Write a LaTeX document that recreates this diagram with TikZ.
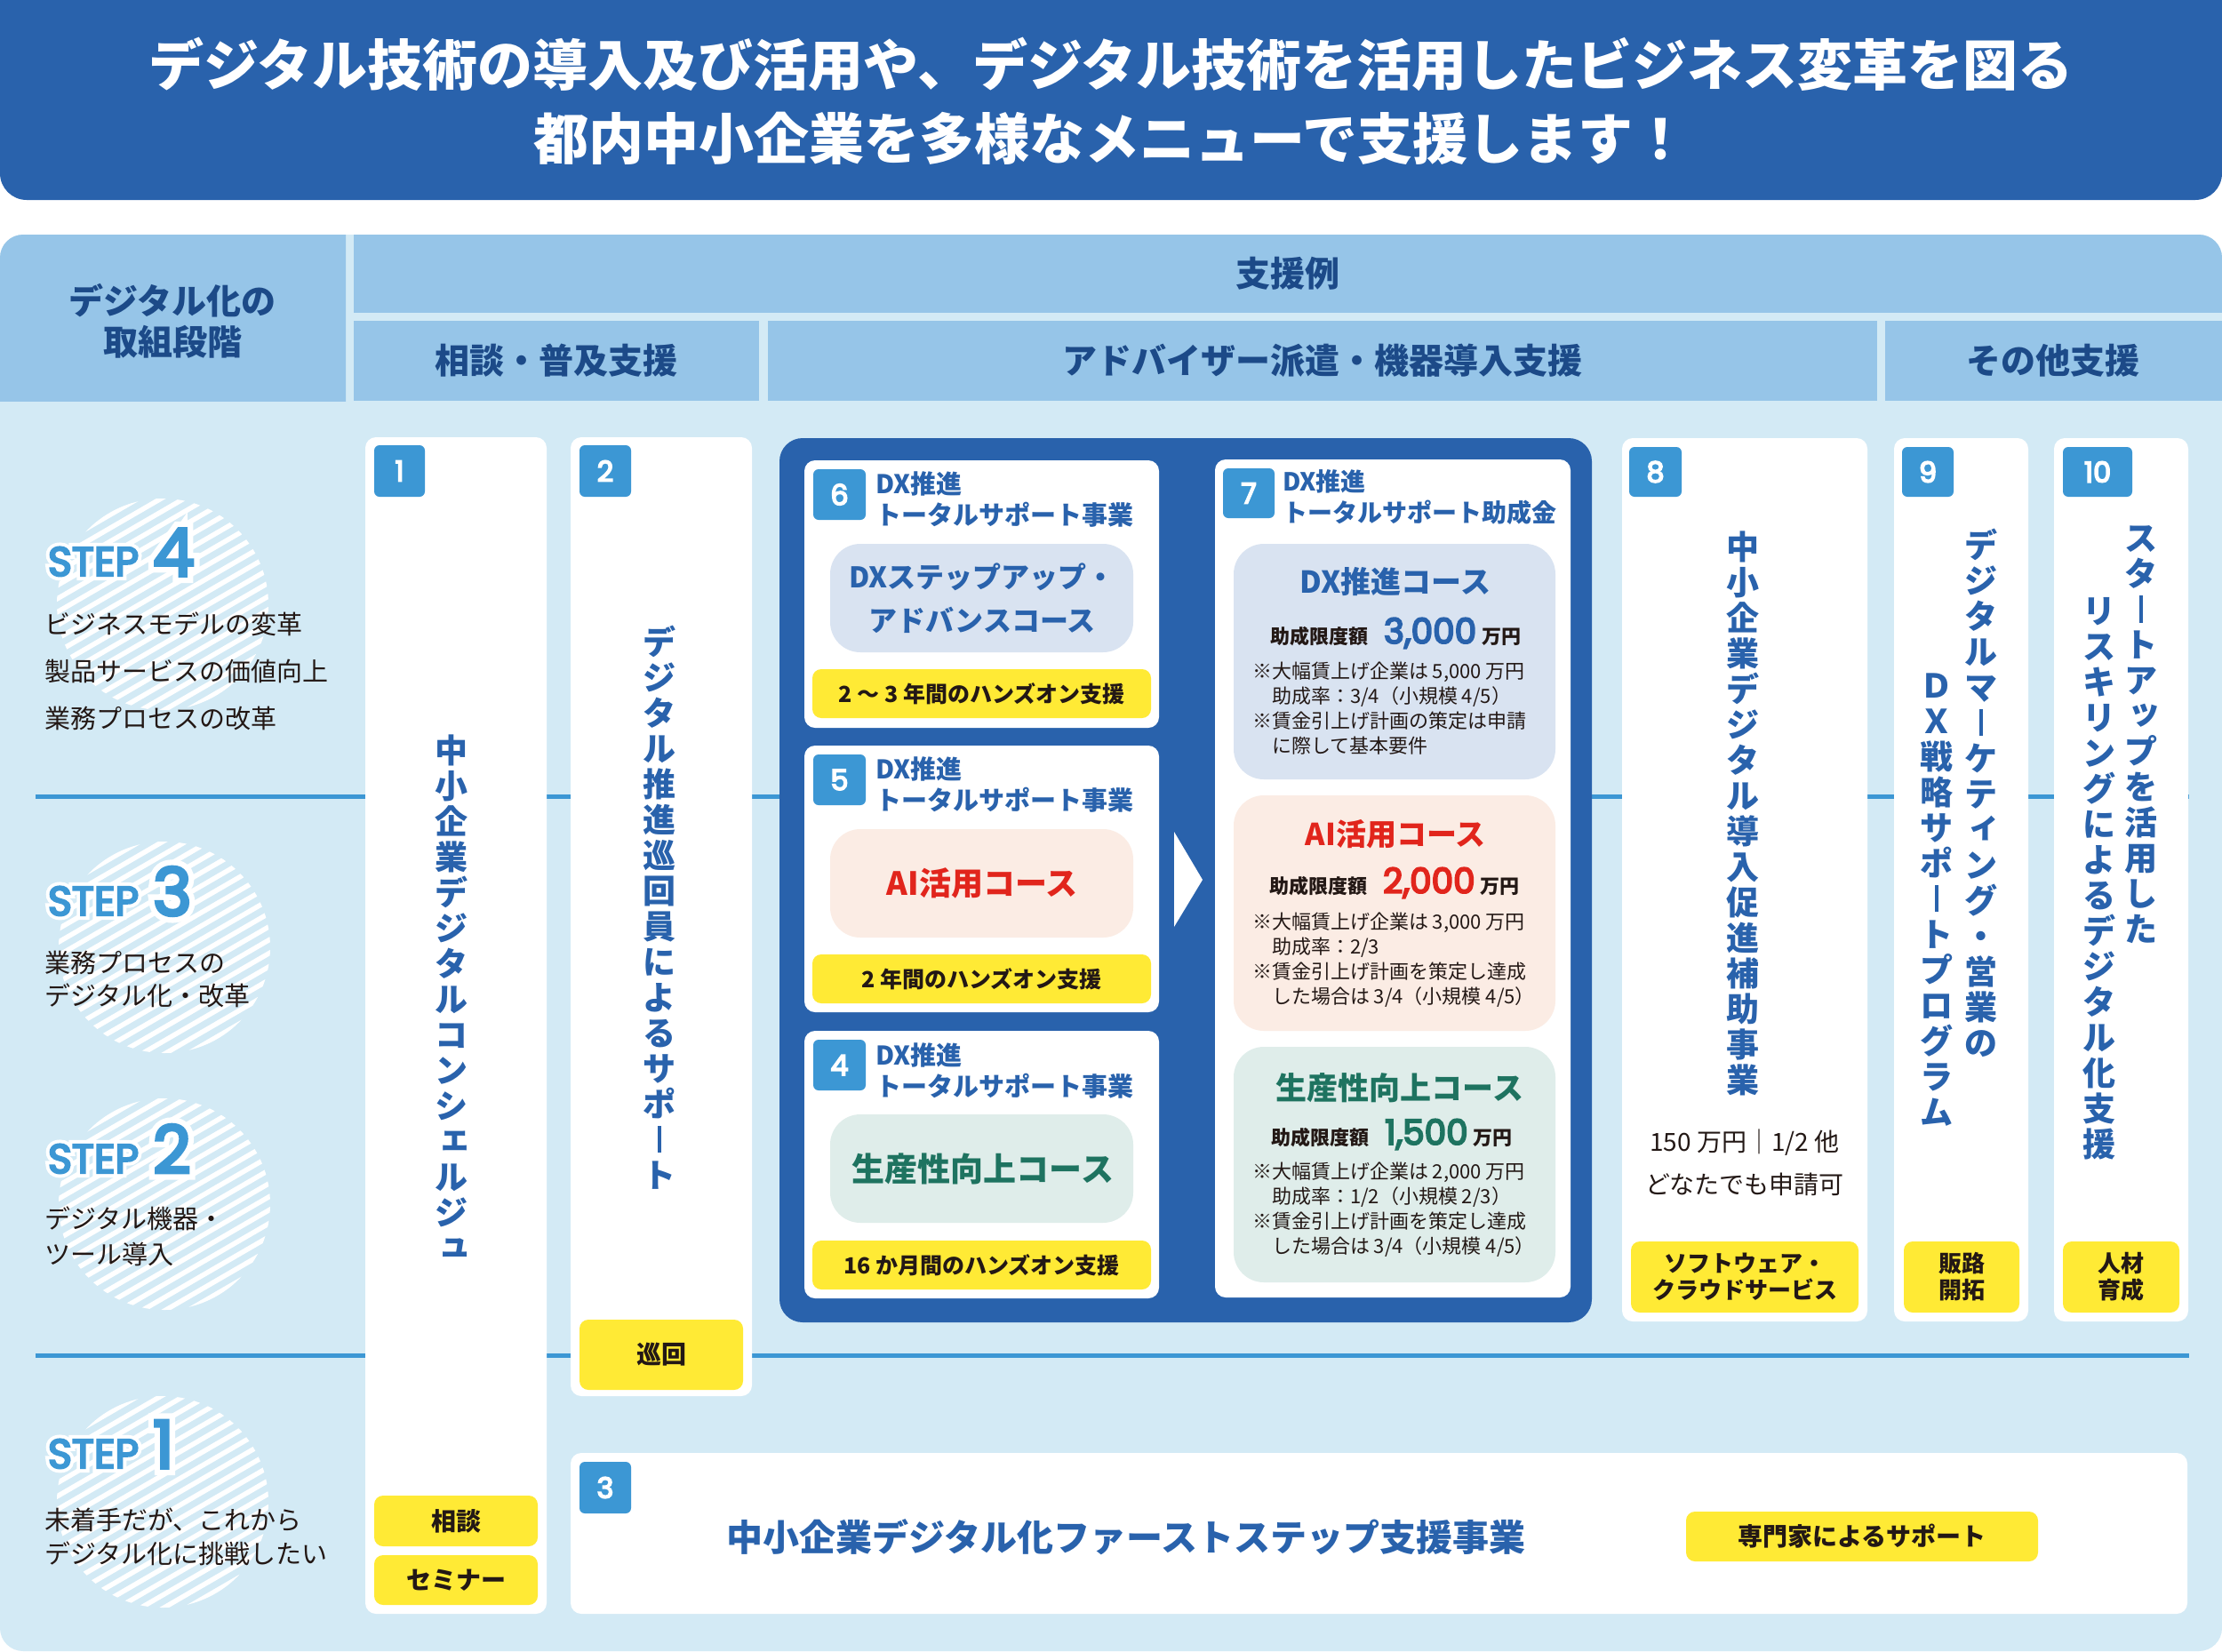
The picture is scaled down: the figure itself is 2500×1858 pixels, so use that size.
\documentclass[tikz,border=0pt]{standalone}
\usepackage{fontspec}
\setmainfont{Noto Sans CJK JP}
\newfontfamily\pop{Poppins}
\newfontfamily\popb{Poppins}[FakeBold=5]
\newfontfamily\pophalo{Poppins}[FakeBold=22]
\definecolor{banner}{HTML}{2962AC}
\definecolor{hdr}{HTML}{96C5E8}
\definecolor{bgl}{HTML}{D3EAF5}
\definecolor{hdrtext}{HTML}{1C4A88}
\definecolor{badge}{HTML}{3C97D4}
\definecolor{yel}{HTML}{FFEA35}
\definecolor{dxbox}{HTML}{D9E3F1}
\definecolor{aibox}{HTML}{FBECE4}
\definecolor{grbox}{HTML}{DFEDEA}
\definecolor{aired}{HTML}{E1251C}
\definecolor{grtext}{HTML}{1E7360}
\definecolor{ink}{HTML}{231815}
\newcommand\vb{\rule[-0.02em]{0.1em}{0.82em}}
\newcommand\sk[1]{\raisebox{0.14em}{\hspace*{0.22em}#1}}
\newcommand\lblf{\fontsize{22}{22}\selectfont\bfseries}
\newcommand\amtf{\popb\fontsize{39}{39}\selectfont}
\newcommand\bxt[7]{\node[#1, anchor=north west, minimum width={(#4)-(#2)}, minimum height={(#5)-(#3)}] (#6) at (#2,#3) {#7};}
\newcommand\hatchcirc[3]{%
  \coordinate (#1) at (#2,#3);
  \begin{scope}
    \clip (#1) circle[radius=119pt];
    \foreach \k in {-13,...,13}{\draw[white, line width=5.5pt] ([shift={(-150,\k*15+87)}]#1) -- ([shift={(150,\k*15-87)}]#1);}
  \end{scope}}
\newcommand\steptxt[2]{{#1\fontsize{46}{46}\selectfont STEP}\hspace{16pt}{#1\fontsize{74}{74}\selectfont #2}}
\newcommand\steplab[4]{%
  \node[anchor=base west, text=white] (#1h) at (#2,#3) {\steptxt{\pophalo}{#4}};
  \node[anchor=base west, text=badge] (#1) at (#2,#3) {\steptxt{\popb}{#4}};}
\begin{document}
\begin{tikzpicture}[x=1pt,y=-1pt,
  every node/.style={inner sep=0pt, outer sep=0pt},
  titletxt/.style={text=white, font=\fontsize{62}{62}\selectfont\bfseries},
  hdrtxt/.style={text=hdrtext, font=\fontsize{39}{46}\selectfont\bfseries, align=center},
  sepline/.style={draw=badge, line width=5pt},
  card/.style={fill=white, rounded corners=12pt},
  container/.style={fill=banner, rounded corners=26pt},
  badgebox/.style={fill=badge, rounded corners=6pt, text=white, font=\popb\fontsize{32}{32}\selectfont},
  yelbox/.style={fill=yel, rounded corners=10pt, text=ink, align=center, font=\fontsize{26}{30}\selectfont\bfseries},
  yelsmall/.style={yelbox, font=\fontsize{25}{30}\selectfont\bfseries},
  coursebox/.style={rounded corners=34pt},
  stepdesc/.style={anchor=west, align=left, text=ink},
  ctitle/.style={anchor=west, align=left, text=banner, font=\fontsize{29}{35}\selectfont\bfseries},
  vtext/.style={anchor=north, align=center, text=banner, font=\fontsize{37}{40}\selectfont\bfseries},
  amount/.style={anchor=base west, text=ink},
  notes/.style={anchor=west, align=left, text=ink, font=\fontsize{22}{28}\selectfont}
]
\useasboundingbox (0,0) rectangle (2500,1858);
\fill[white] (0,0) rectangle (2500,1858);
\clip (0,0) rectangle (2500,1858);
% banner
\fill[banner, rounded corners=30pt] (0,-80) rectangle (2500,225);
\node[titletxt] (title1) at (1250,72) {デジタル技術の導入及び活用や、デジタル技術を活用したビジネス変革を図る};
\node[titletxt] (title2) at (1250,156) {都内中小企業を多様なメニューで支援します！};
% body background
\fill[bgl, rounded corners=26pt] (0,264) rectangle (2500,1858);
% header
\begin{scope}
  \clip (0,264) rectangle (389,451);
  \fill[hdr, rounded corners=26pt] (0,264) rectangle (440,520);
\end{scope}
\begin{scope}
  \clip (398,264) rectangle (2500,351);
  \fill[hdr, rounded corners=26pt] (330,264) rectangle (2500,420);
\end{scope}
\fill[hdr] (398,361) rectangle (854,451);
\fill[hdr] (864,361) rectangle (2112,451);
\fill[hdr] (2121,361) rectangle (2500,451);
\node[hdrtxt] (hL) at (194,361) {デジタル化の\\取組段階};
\node[hdrtxt] (hTop) at (1449,308) {支援例};
\node[hdrtxt] (h1) at (626,406) {相談・普及支援};
\node[hdrtxt] (h2) at (1488,406) {アドバイザー派遣・機器導入支援};
\node[hdrtxt] (h3) at (2310,406) {その他支援};
% separator lines
\coordinate (l4a) at (40,896); \coordinate (l4b) at (2463,896);
\coordinate (l1a) at (40,1525); \coordinate (l1b) at (2463,1525);
\draw[sepline] (l4a) -- (l4b);
\draw[sepline] (l1a) -- (l1b);
% step circles
\hatchcirc{sc4}{183}{680}
\hatchcirc{sc3}{185}{1066}
\hatchcirc{sc2}{185}{1355}
\hatchcirc{sc1}{183}{1690}
\steplab{st4}{54}{648}{4}
\steplab{st3}{54}{1030}{3}
\steplab{st2}{54}{1320}{2}
\steplab{st1}{54}{1652}{1}
\node[stepdesc, font=\fontsize{29}{53}\selectfont] (sd4) at (50,755) {ビジネスモデルの変革\\製品サービスの価値向上\\業務プロセスの改革};
\node[stepdesc, font=\fontsize{29}{37}\selectfont] (sd3) at (50,1102) {業務プロセスの\\デジタル化・改革};
\node[stepdesc, font=\fontsize{29}{40}\selectfont] (sd2) at (50,1391) {デジタル機器・\\ツール導入};
\node[stepdesc, font=\fontsize{29}{38}\selectfont] (sd1) at (50,1729) {未着手だが、これから\\デジタル化に挑戦したい};
% card 1
\bxt{card}{411}{492}{615}{1816}{card1}{}
\bxt{badgebox}{421}{501}{478}{559}{b1}{1}
\node[vtext] (v1) at (508,827) {中\\小\\企\\業\\デ\\ジ\\タ\\ル\\コ\\ン\\シ\\\sk{ェ}\\ル\\ジ\\\sk{ュ}};
\bxt{yelbox, font=\fontsize{28}{28}\selectfont\bfseries}{421}{1683}{605}{1740}{y1a}{相談}
\bxt{yelbox, font=\fontsize{28}{28}\selectfont\bfseries}{421}{1750}{605}{1806}{y1b}{セミナー}
% card 2
\bxt{card}{642}{492}{846}{1571}{card2}{}
\bxt{badgebox}{652}{501}{710}{559}{b2}{2}
\node[vtext] (v2) at (742,704) {デ\\ジ\\タ\\ル\\推\\進\\巡\\回\\員\\に\\よ\\る\\サ\\ポ\\\vb\\ト};
\bxt{yelbox, font=\fontsize{28}{28}\selectfont\bfseries}{652}{1485}{836}{1564}{y2}{巡回}
% container
\bxt{container}{877}{493}{1791}{1488}{cont}{}
% card 6
\bxt{card}{905}{518}{1304}{819}{card6}{}
\bxt{badgebox}{915}{528}{974}{585}{b6}{6}
\node[ctitle] (t6) at (985,562) {DX推進\\トータルサポート事業};
\bxt{coursebox, fill=dxbox}{934}{612}{1275}{734}{c6}{}
\node[align=center, text=banner, font=\fontsize{32}{49}\selectfont\bfseries] (c6t) at (1105,673) {DXステップアップ・\\アドバンスコース};
\bxt{yelsmall}{914}{753}{1295}{808}{y6}{2 ～ 3 年間のハンズオン支援}
% card 5
\bxt{card}{905}{839}{1304}{1139}{card5}{}
\bxt{badgebox}{915}{849}{974}{906}{b5}{5}
\node[ctitle] (t5) at (985,883) {DX推進\\トータルサポート事業};
\bxt{coursebox, fill=aibox}{934}{933}{1275}{1055}{c5}{}
\node[text=aired, font=\fontsize{36}{36}\selectfont\bfseries] (c5t) at (1105,994) {AI活用コース};
\bxt{yelsmall}{914}{1074}{1295}{1129}{y5}{2 年間のハンズオン支援}
% card 4
\bxt{card}{905}{1160}{1304}{1461}{card4}{}
\bxt{badgebox}{915}{1170}{974}{1227}{b4}{4}
\node[ctitle] (t4) at (985,1205) {DX推進\\トータルサポート事業};
\bxt{coursebox, fill=grbox}{934}{1254}{1275}{1376}{c4}{}
\node[text=grtext, font=\fontsize{37}{37}\selectfont\bfseries] (c4t) at (1106,1315) {生産性向上コース};
\bxt{yelsmall}{914}{1396}{1295}{1451}{y4}{16 か月間のハンズオン支援}
% arrow
\coordinate (ar1) at (1321,936); \coordinate (ar2) at (1353,990); \coordinate (ar3) at (1321,1043);
\fill[white] (ar1) -- (ar2) -- (ar3) -- cycle;
% card 7
\bxt{card}{1367}{517}{1767}{1460}{card7}{}
\bxt{badgebox}{1376}{527}{1434}{583}{b7}{7}
\node[ctitle, font=\fontsize{28}{35}\selectfont\bfseries] (t7) at (1443,560) {DX推進\\トータルサポート助成金};
\bxt{coursebox, fill=dxbox}{1388}{612}{1750}{877}{c7a}{}
\node[text=banner, font=\fontsize{34}{34}\selectfont\bfseries] (c7at) at (1570,655) {DX推進コース};
\node[amount] (c7am) at (1429,724) {{\lblf 助成限度額}\hspace{18pt}{\amtf\textcolor{banner}{3,000}}\hspace{6pt}{\lblf 万円}};
\node[notes] (c7an) at (1409,797) {※大幅賃上げ企業は 5,000 万円\\\hspace*{1em}助成率：3/4（小規模 4/5）\\※賃金引上げ計画の策定は申請\\\hspace*{1em}に際して基本要件};
\bxt{coursebox, fill=aibox}{1388}{895}{1750}{1160}{c7b}{}
\node[text=aired, font=\fontsize{34}{34}\selectfont\bfseries] (c7bt) at (1570,939) {AI活用コース};
\node[amount] (c7bm) at (1428,1005) {{\lblf 助成限度額}\hspace{18pt}{\amtf\textcolor{aired}{2,000}}\hspace{6pt}{\lblf 万円}};
\node[notes] (c7bn) at (1409,1080) {※大幅賃上げ企業は 3,000 万円\\\hspace*{1em}助成率：2/3\\※賃金引上げ計画を策定し達成\\\hspace*{1em}した場合は 3/4（小規模 4/5）};
\bxt{coursebox, fill=grbox}{1388}{1178}{1750}{1443}{c7c}{}
\node[text=grtext, font=\fontsize{35}{35}\selectfont\bfseries] (c7ct) at (1575,1224) {生産性向上コース};
\node[amount] (c7cm) at (1430,1288) {{\lblf 助成限度額}\hspace{18pt}{\amtf\textcolor{grtext}{1,500}}\hspace{6pt}{\lblf 万円}};
\node[notes] (c7cn) at (1409,1361) {※大幅賃上げ企業は 2,000 万円\\\hspace*{1em}助成率：1/2（小規模 2/3）\\※賃金引上げ計画を策定し達成\\\hspace*{1em}した場合は 3/4（小規模 4/5）};
% card 8
\bxt{card}{1825}{493}{2101}{1487}{card8}{}
\bxt{badgebox}{1833}{503}{1892}{559}{b8}{8}
\node[vtext] (v8) at (1961,598) {中\\小\\企\\業\\デ\\ジ\\タ\\ル\\導\\入\\促\\進\\補\\助\\事\\業};
\node[text=ink, font=\fontsize{28}{28}\selectfont] (c8a) at (1963,1286) {150 万円｜1/2 他};
\node[text=ink, font=\fontsize{28}{28}\selectfont] (c8b) at (1963,1333) {どなたでも申請可};
\bxt{yelbox}{1835}{1397}{2091}{1477}{y8}{ソフトウェア・\\クラウドサービス}
% card 9
\bxt{card}{2131}{493}{2282}{1487}{card9}{}
\bxt{badgebox}{2140}{503}{2198}{559}{b9}{9}
\node[vtext] (v9a) at (2229,595) {デ\\ジ\\タ\\ル\\マ\\\vb\\ケ\\テ\\\sk{ィ}\\ン\\グ\\・\\営\\業\\の};
\node[vtext] (v9b) at (2179,758) {Ｄ\\Ｘ\\戦\\略\\サ\\ポ\\\vb\\ト\\プ\\ロ\\グ\\ラ\\ム};
\bxt{yelbox}{2142}{1397}{2272}{1477}{y9}{販路\\開拓}
% card 10
\bxt{card}{2311}{493}{2462}{1487}{card10}{}
\bxt{badgebox}{2321}{503}{2399}{559}{b10}{10}
\node[vtext] (v10a) at (2409,592) {ス\\タ\\\vb\\ト\\ア\\\sk{ッ}\\プ\\を\\活\\用\\し\\た};
\node[vtext] (v10b) at (2362,672) {リ\\ス\\キ\\リ\\ン\\グ\\に\\よ\\る\\デ\\ジ\\タ\\ル\\化\\支\\援};
\bxt{yelbox}{2321}{1397}{2452}{1477}{y10}{人材\\育成}
% card 3
\bxt{card}{642}{1635}{2461}{1816}{card3}{}
\bxt{badgebox}{652}{1645}{710}{1703}{b3}{3}
\node[text=banner, font=\fontsize{41}{41}\selectfont\bfseries] (c3t) at (1267,1730) {中小企業デジタル化ファーストステップ支援事業};
\bxt{yelbox, font=\fontsize{28}{28}\selectfont\bfseries}{1897}{1701}{2293}{1757}{y3}{専門家によるサポート}
\end{tikzpicture}
\end{document}
